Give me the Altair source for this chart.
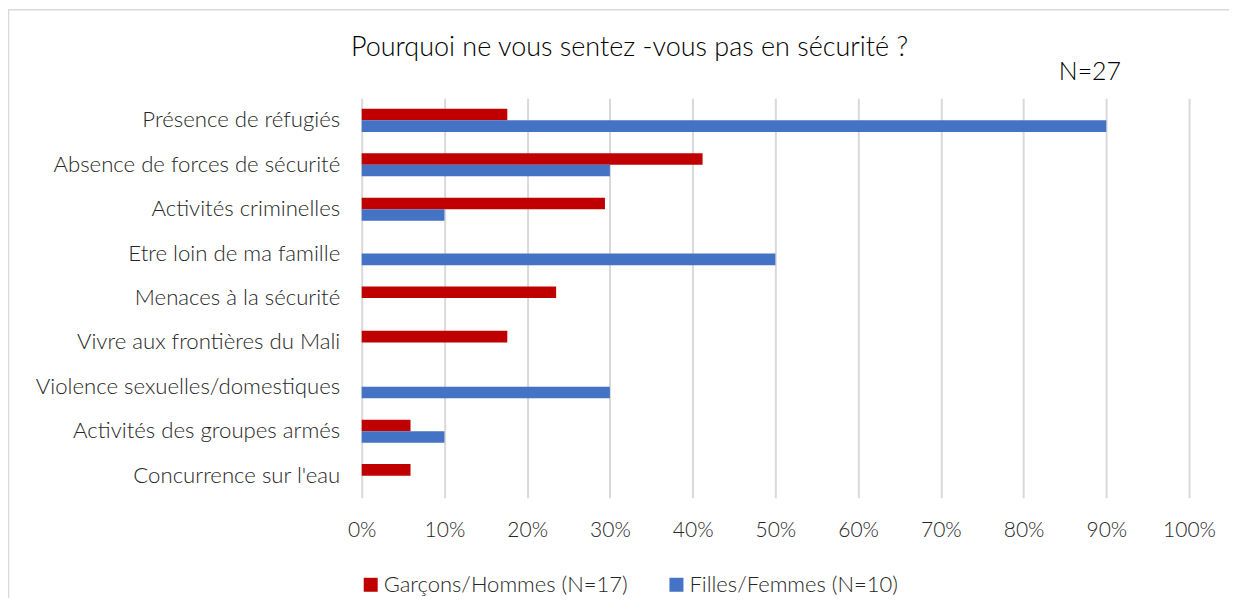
import altair as alt
import pandas as pd

categories = [
    "Présence de réfugiés",
    "Absence de forces de sécurité",
    "Activités criminelles",
    "Etre loin de ma famille",
    "Menaces à la sécurité",
    "Vivre aux frontières du Mali",
    "Violence sexuelles/domestiques ",
    "Activités des groupes armés",
    "Concurrence sur l'eau",
]
series = ["Garçons/Hommes (N=17)", "Filles/Femmes (N=10)"]
garcons = [0.176, 0.412, 0.294, 0.0, 0.235, 0.176, 0.0, 0.059, 0.059]
filles = [0.90, 0.30, 0.10, 0.50, 0.0, 0.0, 0.30, 0.10, 0.0]
colors = ["#C00000", "#4472C4"]
x_ticks = [i / 10 for i in range(11)]

rows = []
for c, g, f in zip(categories, garcons, filles):
    rows.append({"cat": c, "serie": series[0], "val": g})
    rows.append({"cat": c, "serie": series[1], "val": f})
df = pd.DataFrame(rows)

FONT = "Lato"
LW = 300

bars = alt.Chart(df).mark_bar().encode(
    y=alt.Y("cat:N", sort=categories, title=None,
            scale=alt.Scale(paddingInner=0.48, paddingOuter=0.24),
            axis=alt.Axis(labelFontSize=22.2, labelColor="#262626", labelFont=FONT,
                          labelFontWeight=LW,
                          labelPadding=22, ticks=False, domain=False, labelLimit=400)),
    yOffset=alt.YOffset("serie:N", sort=series),
    x=alt.X("val:Q", title=None,
            scale=alt.Scale(domain=[0, 1]),
            axis=alt.Axis(values=x_ticks, format=".0%", labelFontSize=21, labelColor="#262626",
                          labelFont=FONT, labelFontWeight=LW, labelFlush=False,
                          labelPadding=22, ticks=False, domain=False,
                          gridColor="#D9D9D9", gridWidth=2)),
    color=alt.Color("serie:N", sort=series,
                    scale=alt.Scale(domain=series, range=colors),
                    legend=alt.Legend(title=None, orient="none", direction="horizontal",
                                      legendX=-2, legendY=476, symbolType="square",
                                      symbolSize=196, symbolStrokeWidth=0, labelFontSize=22,
                                      labelFont=FONT, labelFontWeight=LW, labelColor="#262626",
                                      columnPadding=37, labelLimit=400,
                                      labelOffset=2, symbolOpacity=1)),
)

ntext = alt.Chart(pd.DataFrame({"t": ["N=27"]})).mark_text(
    fontSize=25, font=FONT, fontWeight=LW, color="#000000", align="right", baseline="middle"
).encode(text="t:N", x=alt.value(760), y=alt.value(-26))

border = alt.Chart(pd.DataFrame({"k": [0]})).mark_rule(color="#D9D9D9", strokeWidth=1.5).encode(
    x=alt.value(-354), x2=alt.value(875), y=alt.value(-88.5)
)
border2 = alt.Chart(pd.DataFrame({"k": [0]})).mark_rule(color="#D9D9D9", strokeWidth=1.5).encode(
    x=alt.value(-353.5), y=alt.value(-89), y2=alt.value(520)
)

chart = alt.layer(border, border2, bars, ntext).properties(
    width=828, height=400,
    background="white",
    title=alt.TitleParams("Pourquoi ne vous sentez -vous pas en sécurité ?", fontSize=27,
                          font=FONT, fontWeight=LW, color="#000000",
                          anchor="middle", dx=-146, offset=-54),
    padding={"left": 354, "top": 90, "right": 40, "bottom": 100},
    autosize=alt.AutoSizeParams(type="none"),
).configure_view(strokeWidth=0, stroke="transparent")

chart.save("out.html", embed_options={"renderer": "svg", "actions": False})
